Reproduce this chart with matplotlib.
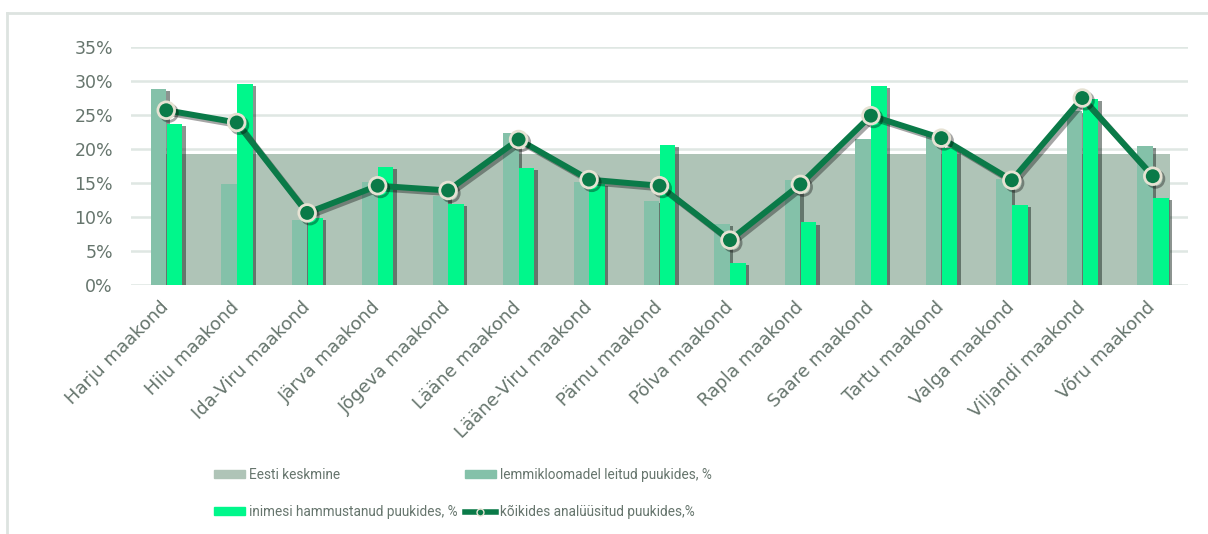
import numpy as np
import matplotlib.pyplot as plt
import matplotlib.patheffects as pe
from matplotlib.patches import Patch
from matplotlib.lines import Line2D
from matplotlib.ticker import FuncFormatter

# County data, shares of infected ticks (%)
counties = ["Harju maakond", "Hiiu maakond", "Ida-Viru maakond", "Järva maakond",
            "Jõgeva maakond", "Lääne maakond", "Lääne-Viru maakond", "Pärnu maakond",
            "Põlva maakond", "Rapla maakond", "Saare maakond", "Tartu maakond",
            "Valga maakond", "Viljandi maakond", "Võru maakond"]
pets = [28.8, 14.9, 9.6, 15.1, 13.1, 22.3, 15.2, 12.4, 9.0, 15.4, 21.4, 22.2, 15.6, 25.6, 20.5]
humans = [23.7, 29.5, 9.8, 17.4, 11.9, 17.2, 14.8, 20.6, 3.3, 9.2, 29.3, 20.2, 11.8, 27.3, 12.8]
all_ticks = [25.7, 23.9, 10.6, 14.6, 13.9, 21.4, 15.5, 14.6, 6.6, 14.8, 24.9, 21.6, 15.4, 27.5, 16.0]
estonia_avg = 19.2

col_avg = "#afc4b7"
col_pet = "#84c1a9"
col_human = "#00f78b"
col_line = "#0a7a48"
col_edge = "#e6e2d3"
col_grid = "#dfe7e3"
col_text = "#66756d"

fig = plt.figure(figsize=(12.08, 5.34), dpi=100)
ax = fig.add_axes([131 / 1208, 1 - 285 / 534, 1057 / 1208, 238 / 534])

x = np.arange(len(counties))
bw = 0.22

# national average as a band behind the county bars
ax.fill_between([x[0] - bw, x[-1] + bw + 0.03], estonia_avg, 0, color=col_avg, lw=0, zorder=1)

bar_shadow = [pe.SimplePatchShadow(offset=(2.5, -1.5), shadow_rgbFace="#1a2a22", alpha=0.5), pe.Normal()]
ax.bar(x - bw / 2, pets, bw, color=col_pet, zorder=2, path_effects=bar_shadow)
ax.bar(x + bw / 2 + 0.005, humans, bw, color=col_human, zorder=3, path_effects=bar_shadow)

ax.plot(x, all_ticks, color=col_line, lw=4.3, marker="o", ms=12, mfc=col_line,
        mec=col_edge, mew=2, zorder=5,
        path_effects=[pe.SimpleLineShadow(offset=(2, -2), shadow_color="k", alpha=0.35), pe.Normal()])

ax.set_xlim(-0.5, len(counties) - 0.5)
ax.set_ylim(0, 35)
ax.set_yticks(np.arange(0, 36, 5))
ax.yaxis.set_major_formatter(FuncFormatter(lambda v, p: f"{v:.0f}%"))
ax.grid(axis="y", color=col_grid, lw=1.8, zorder=0)
ax.set_axisbelow(True)
for s in ax.spines.values():
    s.set_visible(False)
ax.tick_params(axis="both", length=0, colors=col_text)
ax.tick_params(axis="y", labelsize=12.5, pad=13)
ax.set_xticks(x)
ax.set_xticklabels(counties, rotation=45, ha="right", va="center",
                   rotation_mode="anchor", fontsize=13, color=col_text)
ax.tick_params(axis="x", pad=14)

# legend below the plot
handles = [
    Patch(color=col_avg, label="Eesti keskmine"),
    Patch(color=col_human, label="inimesi hammustanud puukides, %"),
    Patch(color=col_pet, label="lemmikloomadel leitud puukides, %"),
    Line2D([0], [0], color=col_line, lw=4, marker="o", ms=5, mfc=col_line, mec=col_edge,
           label="kõikides analüüsitud puukides,%"),
]
fig.legend(handles=handles, ncol=2, loc="upper left", bbox_to_anchor=(207 / 1208, 1 - 461 / 534),
           frameon=False, handlelength=2.3, handleheight=0.55, handletextpad=0.3,
           columnspacing=0.5, labelspacing=1.7, borderpad=0,
           prop={"family": "Roboto", "size": 9.8},
           labelcolor=col_text)

# thin outline of the chart area
fig.add_artist(Line2D([7 / 1208, 7 / 1208], [0, 1 - 13 / 534], color="#dde3e0", lw=2))
fig.add_artist(Line2D([7 / 1208, 1], [1 - 13 / 534, 1 - 13 / 534], color="#dde3e0", lw=2))

fig.savefig("out.png", dpi=100)
